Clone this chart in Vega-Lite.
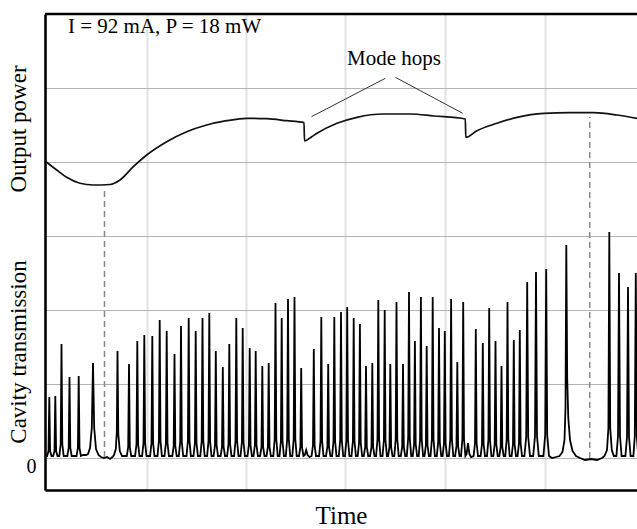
{
  "$schema": "https://vega.github.io/schema/vega-lite/v6.json",
  "width": 592,
  "height": 476,
  "autosize": {"type": "none"},
  "padding": {"left": 45, "top": 14, "right": 0, "bottom": 39},
  "background": "white",
  "config": {"view": {"stroke": null}, "font": "Liberation Serif"},
  "datasets": {
    "trans": [
      {"x":0,"y":1},
      {"x":2.1,"y":2},{"x":3.5,"y":7},{"x":4.3,"y":61},{"x":5.1,"y":7},{"x":6.5,"y":2},
      {"x":8.1,"y":2},{"x":9.5,"y":7},{"x":10.3,"y":62},{"x":11.1,"y":7},{"x":12.5,"y":2},
      {"x":14.3,"y":2},{"x":15.7,"y":14},{"x":16.5,"y":114},{"x":17.3,"y":14},{"x":18.7,"y":2},
      {"x":22.3,"y":2},{"x":23.7,"y":10},{"x":24.5,"y":81},{"x":25.3,"y":10},{"x":26.7,"y":2},
      {"x":31.5,"y":2},{"x":32.9,"y":10},{"x":33.7,"y":82},{"x":34.5,"y":10},{"x":35.9,"y":2},
      {"x":38,"y":3},{"x":41,"y":3},
      {"x":43,"y":4},{"x":45,"y":10},{"x":46.8,"y":30},{"x":48,"y":95},{"x":49.2,"y":30},{"x":51,"y":9},{"x":53.5,"y":3},{"x":56,"y":1},
      {"x":59,"y":0},{"x":62,"y":1},{"x":65,"y":-1},{"x":67.5,"y":1},
      {"x":69,"y":3},{"x":70.8,"y":9},{"x":71.8,"y":26},{"x":72.5,"y":107},{"x":73.3,"y":24},{"x":74.8,"y":7},{"x":77,"y":2},
      {"x":81.8,"y":2},{"x":83.2,"y":11},{"x":84,"y":94},{"x":84.8,"y":11},{"x":86.2,"y":2},
      {"x":90.1,"y":2},{"x":91.5,"y":14},{"x":92.3,"y":117},{"x":93.1,"y":14},{"x":94.5,"y":2},
      {"x":97.1,"y":2},{"x":98.5,"y":15},{"x":99.3,"y":123},{"x":100.1,"y":15},{"x":101.5,"y":2},
      {"x":105.1,"y":2},{"x":106.5,"y":15},{"x":107.3,"y":122},{"x":108.1,"y":15},{"x":109.5,"y":2},
      {"x":112.5,"y":2},{"x":113.9,"y":17},{"x":114.7,"y":138},{"x":115.5,"y":17},{"x":116.9,"y":2},
      {"x":119.5,"y":2},{"x":120.9,"y":15},{"x":121.7,"y":127},{"x":122.5,"y":15},{"x":123.9,"y":2},
      {"x":127.3,"y":2},{"x":128.7,"y":12},{"x":129.5,"y":104},{"x":130.3,"y":12},{"x":131.7,"y":2},
      {"x":133.8,"y":2},{"x":135.2,"y":16},{"x":136,"y":132},{"x":136.8,"y":16},{"x":138.2,"y":2},
      {"x":141.5,"y":2},{"x":142.9,"y":17},{"x":143.7,"y":140},{"x":144.5,"y":17},{"x":145.9,"y":2},
      {"x":148.5,"y":2},{"x":149.9,"y":15},{"x":150.7,"y":127},{"x":151.5,"y":15},{"x":152.9,"y":2},
      {"x":155.3,"y":2},{"x":156.7,"y":17},{"x":157.5,"y":140},{"x":158.3,"y":17},{"x":159.7,"y":2},
      {"x":162.1,"y":2},{"x":163.5,"y":17},{"x":164.3,"y":145},{"x":165.1,"y":17},{"x":166.5,"y":2},
      {"x":168.6,"y":2},{"x":170,"y":13},{"x":170.8,"y":107},{"x":171.6,"y":13},{"x":173,"y":2},
      {"x":175.6,"y":2},{"x":177,"y":11},{"x":177.8,"y":91},{"x":178.6,"y":11},{"x":180,"y":2},
      {"x":182.1,"y":2},{"x":183.5,"y":14},{"x":184.3,"y":114},{"x":185.1,"y":14},{"x":186.5,"y":2},
      {"x":189.1,"y":2},{"x":190.5,"y":17},{"x":191.3,"y":140},{"x":192.1,"y":17},{"x":193.5,"y":2},
      {"x":195.5,"y":2},{"x":196.9,"y":16},{"x":197.7,"y":130},{"x":198.5,"y":16},{"x":199.9,"y":2},
      {"x":202.5,"y":2},{"x":203.9,"y":13},{"x":204.7,"y":110},{"x":205.5,"y":13},{"x":206.9,"y":2},
      {"x":208.5,"y":2},{"x":209.9,"y":13},{"x":210.7,"y":107},{"x":211.5,"y":13},{"x":212.9,"y":2},
      {"x":215.1,"y":2},{"x":216.5,"y":11},{"x":217.3,"y":92},{"x":218.1,"y":11},{"x":219.5,"y":2},
      {"x":221.5,"y":2},{"x":222.9,"y":11},{"x":223.7,"y":95},{"x":224.5,"y":11},{"x":225.9,"y":2},
      {"x":228.3,"y":2},{"x":229.7,"y":19},{"x":230.5,"y":155},{"x":231.3,"y":19},{"x":232.7,"y":2},
      {"x":234.5,"y":2},{"x":235.9,"y":17},{"x":236.7,"y":140},{"x":237.5,"y":17},{"x":238.9,"y":2},
      {"x":240.8,"y":2},{"x":242.2,"y":19},{"x":243,"y":159},{"x":243.8,"y":19},{"x":245.2,"y":2},
      {"x":247.3,"y":2},{"x":248.7,"y":19},{"x":249.5,"y":161},{"x":250.3,"y":19},{"x":251.7,"y":2},
      {"x":254,"y":2},{"x":255.4,"y":11},{"x":256.2,"y":90},{"x":257,"y":11},{"x":258.4,"y":2},
      {"x":259.8,"y":3},{"x":261.2,"y":8},{"x":262.6,"y":3},{"x":264.5,"y":1},
      {"x":266.6,"y":2},{"x":268,"y":13},{"x":268.8,"y":109},{"x":269.6,"y":13},{"x":271,"y":2},
      {"x":274.1,"y":2},{"x":275.5,"y":17},{"x":276.3,"y":141},{"x":277.1,"y":17},{"x":278.5,"y":2},
      {"x":281,"y":2},{"x":282.4,"y":11},{"x":283.2,"y":94},{"x":284,"y":11},{"x":285.4,"y":2},
      {"x":287.1,"y":2},{"x":288.5,"y":17},{"x":289.3,"y":141},{"x":290.1,"y":17},{"x":291.5,"y":2},
      {"x":293.8,"y":2},{"x":295.2,"y":18},{"x":296,"y":146},{"x":296.8,"y":18},{"x":298.2,"y":2},
      {"x":300,"y":2},{"x":301.4,"y":18},{"x":302.2,"y":151},{"x":303,"y":18},{"x":304.4,"y":2},
      {"x":306.5,"y":2},{"x":307.9,"y":17},{"x":308.7,"y":140},{"x":309.5,"y":17},{"x":310.9,"y":2},
      {"x":312.7,"y":2},{"x":314.1,"y":16},{"x":314.9,"y":134},{"x":315.7,"y":16},{"x":317.1,"y":2},
      {"x":318.8,"y":2},{"x":320.2,"y":11},{"x":321,"y":92},{"x":321.8,"y":11},{"x":323.2,"y":2},
      {"x":325.1,"y":2},{"x":326.5,"y":11},{"x":327.3,"y":95},{"x":328.1,"y":11},{"x":329.5,"y":2},
      {"x":331.1,"y":2},{"x":332.5,"y":19},{"x":333.3,"y":158},{"x":334.1,"y":19},{"x":335.5,"y":2},
      {"x":337.5,"y":2},{"x":338.9,"y":18},{"x":339.7,"y":148},{"x":340.5,"y":18},{"x":341.9,"y":2},
      {"x":343.1,"y":2},{"x":344.5,"y":11},{"x":345.3,"y":94},{"x":346.1,"y":11},{"x":347.5,"y":2},
      {"x":349.3,"y":2},{"x":350.7,"y":19},{"x":351.5,"y":156},{"x":352.3,"y":19},{"x":353.7,"y":2},
      {"x":355.8,"y":2},{"x":357.2,"y":11},{"x":358,"y":94},{"x":358.8,"y":11},{"x":360.2,"y":2},
      {"x":361.8,"y":2},{"x":363.2,"y":20},{"x":364,"y":166},{"x":364.8,"y":20},{"x":366.2,"y":2},
      {"x":367.7,"y":2},{"x":369.1,"y":14},{"x":369.9,"y":117},{"x":370.7,"y":14},{"x":372.1,"y":2},
      {"x":373.7,"y":2},{"x":375.1,"y":19},{"x":375.9,"y":161},{"x":376.7,"y":19},{"x":378.1,"y":2},
      {"x":379.5,"y":2},{"x":380.9,"y":13},{"x":381.7,"y":112},{"x":382.5,"y":13},{"x":383.9,"y":2},
      {"x":385.5,"y":2},{"x":386.9,"y":19},{"x":387.7,"y":161},{"x":388.5,"y":19},{"x":389.9,"y":2},
      {"x":391.8,"y":2},{"x":393.2,"y":16},{"x":394,"y":130},{"x":394.8,"y":16},{"x":396.2,"y":2},
      {"x":397.6,"y":2},{"x":399,"y":15},{"x":399.8,"y":127},{"x":400.6,"y":15},{"x":402,"y":2},
      {"x":403.9,"y":2},{"x":405.3,"y":19},{"x":406.1,"y":159},{"x":406.9,"y":19},{"x":408.3,"y":2},
      {"x":410.1,"y":2},{"x":411.5,"y":12},{"x":412.3,"y":96},{"x":413.1,"y":12},{"x":414.5,"y":2},
      {"x":416,"y":2},{"x":417.4,"y":19},{"x":418.2,"y":156},{"x":419,"y":19},{"x":420.4,"y":2},
      {"x":421.6,"y":4},{"x":423,"y":15},{"x":424.4,"y":4},{"x":426,"y":1},
      {"x":428.6,"y":2},{"x":430,"y":15},{"x":430.8,"y":129},{"x":431.6,"y":15},{"x":433,"y":2},
      {"x":435.6,"y":2},{"x":437,"y":14},{"x":437.8,"y":115},{"x":438.6,"y":14},{"x":440,"y":2},
      {"x":442,"y":2},{"x":443.4,"y":18},{"x":444.2,"y":150},{"x":445,"y":18},{"x":446.4,"y":2},
      {"x":448.3,"y":2},{"x":449.7,"y":14},{"x":450.5,"y":117},{"x":451.3,"y":14},{"x":452.7,"y":2},
      {"x":454.3,"y":2},{"x":455.7,"y":11},{"x":456.5,"y":92},{"x":457.3,"y":11},{"x":458.7,"y":2},
      {"x":460.3,"y":2},{"x":461.7,"y":19},{"x":462.5,"y":156},{"x":463.3,"y":19},{"x":464.7,"y":2},
      {"x":466.6,"y":2},{"x":468,"y":14},{"x":468.8,"y":118},{"x":469.6,"y":14},{"x":471,"y":2},
      {"x":472.6,"y":2},{"x":474,"y":15},{"x":474.8,"y":128},{"x":475.6,"y":15},{"x":477,"y":2},
      {"x":479.4,"y":2},{"x":481.2,"y":21},{"x":482.2,"y":176},{"x":483.2,"y":21},{"x":485,"y":2},
      {"x":488.2,"y":2},{"x":490,"y":22},{"x":491,"y":186},{"x":492,"y":22},{"x":493.8,"y":2},
      {"x":498.4,"y":2},{"x":500.2,"y":23},{"x":501.2,"y":189},{"x":502.2,"y":23},{"x":504,"y":2},
      {"x":507,"y":0},{"x":511,"y":1},
      {"x":514.5,"y":2},{"x":517.5,"y":6},{"x":519.5,"y":18},{"x":520.5,"y":50},{"x":521.3,"y":213},{"x":522.2,"y":80},{"x":523.3,"y":40},{"x":525,"y":18},{"x":527.5,"y":7},{"x":531,"y":2},{"x":535,"y":0},
      {"x":540,"y":-2},{"x":546,"y":-1},{"x":552,"y":-2},{"x":557,"y":0},
      {"x":559.5,"y":2},{"x":562,"y":8},{"x":563.4,"y":30},{"x":564.3,"y":226},{"x":565.2,"y":30},{"x":566.8,"y":8},{"x":568.8,"y":2},
      {"x":571.4,"y":2},{"x":573,"y":22},{"x":574,"y":185},{"x":575,"y":22},{"x":576.6,"y":2},
      {"x":580.4,"y":2},{"x":582,"y":21},{"x":583,"y":171},{"x":584,"y":21},{"x":585.6,"y":2},
      {"x":588.4,"y":2},{"x":589.8,"y":22},{"x":590.8,"y":185},{"x":591.8,"y":22},{"x":593.2,"y":2}
    ],
    "power": [
      {"x":0,"y":297},{"x":11.7,"y":288},{"x":21.7,"y":280.7},{"x":35,"y":274.7},{"x":48.3,"y":273},
      {"x":65,"y":273.5},{"x":75,"y":278},{"x":88.3,"y":291.3},{"x":101.7,"y":303},{"x":121.7,"y":316.3},
      {"x":141.7,"y":326.3},{"x":161.7,"y":333},{"x":181.7,"y":337.3},{"x":201.7,"y":339.7},{"x":221.7,"y":339.3},
      {"x":241.7,"y":337.3},{"x":259,"y":335.3},{"x":259.5,"y":317},{"x":266.7,"y":321.3},{"x":272,"y":324.7},
      {"x":292,"y":334.7},{"x":312,"y":340.7},{"x":338.7,"y":344},{"x":365.3,"y":344},{"x":388.7,"y":342},
      {"x":420.3,"y":339},{"x":420.8,"y":320.7},{"x":432,"y":327.3},{"x":452,"y":334.7},{"x":472,"y":340.7},
      {"x":498.7,"y":344.7},{"x":525.3,"y":345.3},{"x":548.7,"y":345.3},{"x":572,"y":343},{"x":592,"y":339.7}
    ],
    "dashes": [
      {"x":59.5,"y":1,"y2":268},
      {"x":544.7,"y":0,"y2":341}
    ],
    "hops": [
      {"x":340.3,"y":379.7,"x2":266.5,"y2":341.3},
      {"x":350.3,"y":380.7,"x2":417.7,"y2":344.7}
    ],
    "notes": [
      {"x":23,"y":431,"t":"I = 92 mA, P = 18 mW"},
      {"x":302,"y":399,"t":"Mode hops"}
    ],
    "ytitles": [
      {"x":-25.7,"y":329,"t":"Output power"},
      {"x":-25.7,"y":106,"t":"Cavity transmission"}
    ]
  },
  "layer": [
    {
      "data": {"name": "trans"},
      "mark": {"type": "line", "color": "#000000", "strokeWidth": 1.8, "clip": true},
      "encoding": {
        "x": {
          "field": "x", "type": "quantitative",
          "scale": {"domain": [0, 592], "nice": false, "zero": false},
          "axis": {
            "values": [102, 201, 300, 400, 500],
            "labels": false, "ticks": false, "tickSize": 0,
            "grid": true, "gridColor": "#e2e2e2", "gridWidth": 2, "gridOpacity": 1,
            "domain": true, "domainColor": "#000000", "domainWidth": 2.6,
            "title": "Time", "titleFont": "Liberation Serif", "titleFontSize": 25,
            "titleFontWeight": "normal", "titleColor": "#000000",
            "titleBaseline": "alphabetic", "titlePadding": 33
          }
        },
        "y": {
          "field": "y", "type": "quantitative",
          "scale": {"domain": [-32, 444], "nice": false, "zero": false},
          "axis": {
            "values": [0, 74, 148, 222, 296, 370],
            "labelExpr": "datum.value == 0 ? '0' : ''",
            "labelFont": "Liberation Serif", "labelFontSize": 20, "labelColor": "#000000",
            "labelBaseline": "middle", "labelOffset": 8, "labelPadding": 9,
            "ticks": false, "tickSize": 0,
            "grid": true, "gridColor": "#b4b4b4", "gridWidth": 1, "gridOpacity": 1,
            "domain": true, "domainColor": "#000000", "domainWidth": 2.6,
            "title": null
          }
        }
      }
    },
    {
      "data": {"name": "power"},
      "mark": {"type": "line", "color": "#111111", "strokeWidth": 1.7, "interpolate": "monotone"},
      "encoding": {
        "x": {"field": "x", "type": "quantitative"},
        "y": {"field": "y", "type": "quantitative"}
      }
    },
    {
      "data": {"name": "dashes"},
      "mark": {"type": "rule", "color": "#888888", "strokeWidth": 1.5, "strokeDash": [6, 4]},
      "encoding": {
        "x": {"field": "x", "type": "quantitative"},
        "y": {"field": "y", "type": "quantitative"},
        "y2": {"field": "y2"}
      }
    },
    {
      "data": {"name": "hops"},
      "mark": {"type": "rule", "color": "#333333", "strokeWidth": 1},
      "encoding": {
        "x": {"field": "x", "type": "quantitative"},
        "y": {"field": "y", "type": "quantitative"},
        "x2": {"field": "x2"},
        "y2": {"field": "y2"}
      }
    },
    {
      "data": {"values": [{}]},
      "mark": {"type": "rule", "color": "#000000", "strokeWidth": 2.6},
      "encoding": {"y": {"datum": 444}}
    },
    {
      "data": {"name": "notes"},
      "mark": {"type": "text", "font": "Liberation Serif", "fontSize": 21, "baseline": "middle", "align": "left", "color": "#000000"},
      "encoding": {
        "x": {"field": "x", "type": "quantitative"},
        "y": {"field": "y", "type": "quantitative"},
        "text": {"field": "t"}
      }
    },
    {
      "data": {"name": "ytitles"},
      "mark": {"type": "text", "font": "Liberation Serif", "fontSize": 23, "baseline": "middle", "align": "center", "angle": 270, "color": "#000000", "clip": false},
      "encoding": {
        "x": {"field": "x", "type": "quantitative"},
        "y": {"field": "y", "type": "quantitative"},
        "text": {"field": "t"}
      }
    }
  ]
}
